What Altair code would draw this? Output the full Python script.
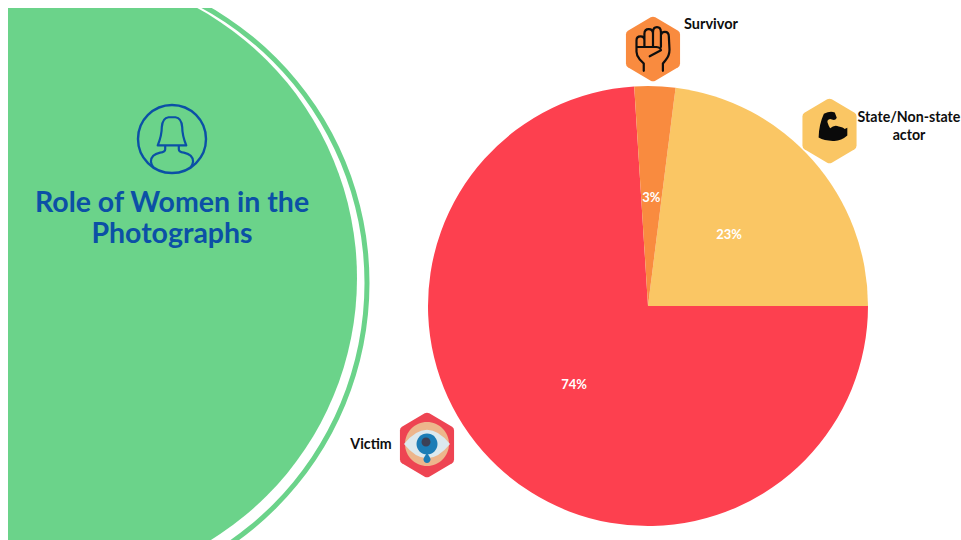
import altair as alt
import pandas as pd

# Pie values, clockwise from the slice that ends at three o'clock
roles = ["State/Non-state actor", "Victim", "Survivor"]
shares = [23, 74, 3]
ranks = [1, 2, 3]
slice_colors = ["#FAC664", "#FD404F", "#F98B3F"]

W, H = 961, 540
CX, CY, R = 648, 306, 220
START = 0.1257  # first slice begins a little past twelve o'clock
TAU = 6.28319

GREEN = "#6BD38A"
BLUE = "#0B50A6"
INK = "#0E0E0E"

HEX = ("M-.07,-.96 Q0,-1 .07,-.96 L.76,-.55 Q.82,-.51 .82,-.44 L.82,.44 Q.82,.51 .76,.55 "
       "L.07,.96 Q0,1 -.07,.96 L-.76,.55 Q-.82,.51 -.82,.44 L-.82,-.44 Q-.82,-.51 -.76,-.55 Z")
PERSON = ("M-.42,.19 Q-.3,-.1 -.3,-.35 Q-.28,-.62 -.1,-.64 L.1,-.64 Q.28,-.62 .3,-.35 Q.3,-.1 .42,.19 Z "
          "M-.2,.19 L-.2,.3 Q-.2,.38 -.35,.4 Q-.62,.46 -.62,.66 Q-.62,.72 -.55,.83 "
          "M.2,.19 L.2,.3 Q.2,.38 .35,.4 Q.62,.46 .62,.66 Q.62,.72 .55,.83")
CIRCLE_RING = "M-1,0 A1,1 0 1,1 1,0 A1,1 0 1,1 -1,0 Z"
FIST = ("M-.28,.66 L-.28,.44 L-.4,.32 Q-.5,.2 -.5,.08 L-.5,-.26 Q-.5,-.38 -.38,-.38 Q-.26,-.38 -.26,-.26 "
        "L-.26,-.46 Q-.26,-.6 -.13,-.6 Q0,-.6 0,-.46 L0,-.5 Q0,-.66 .12,-.66 Q.24,-.66 .24,-.5 "
        "L.24,-.42 Q.26,-.52 .36,-.52 Q.48,-.52 .48,-.38 L.5,.02 Q.5,.2 .38,.34 L.3,.44 L.3,.66 "
        "M-.26,-.26 L-.26,-.06 M0,-.46 L0,-.06 M.24,-.42 L.24,-.06 "
        "M-.5,-.06 L.1,-.06 Q.24,-.04 .24,.04 L-.1,.22")
ARM = ("M-.17,-.52 Q.02,-.62 .16,-.56 L.22,-.4 Q.2,-.32 .1,-.34 L.02,-.36 Q-.08,-.34 -.06,-.26 "
       "Q-.02,-.14 .02,-.08 Q.14,-.2 .28,-.14 Q.42,-.12 .46,-.06 L.54,-.1 L.54,.14 "
       "Q.34,.32 .1,.3 Q-.16,.3 -.33,.2 Q-.32,-.2 -.17,-.52 Z")
ALMOND = "M-1,0 Q-.5,-.62 0,-.62 Q.5,-.62 1,0 Q.5,.62 0,.62 Q-.5,.62 -1,0 Z"
DROP = "M0,-1 Q.7,-.1 .7,.3 A.7,.7 0 1,1 -.7,.3 Q-.7,-.1 0,-1 Z"

frame = pd.DataFrame({"role": roles, "share": shares, "rank": ranks})


def disc(x, y, radius, inner, color):
    """A full ring or disc for the panel's large circle."""
    return alt.Chart(pd.DataFrame({"a": [0]})).mark_arc(
        theta=0, theta2=TAU, innerRadius=inner, outerRadius=radius, color=color, clip=True
    ).encode(x=alt.value(x), y=alt.value(y))


def blank(x0, x1, y0, y1):
    """A white strip that trims the circle at the page margin."""
    return alt.Chart(pd.DataFrame({"a": [0]})).mark_rect(color="white").encode(
        x=alt.value(x0), x2=alt.value(x1), y=alt.value(y0), y2=alt.value(y1)
    )


def glyph(path, x, y, extent, fill=None, stroke=None, width=2.0):
    """An SVG path symbol; path units run from -1 to 1 across the extent."""
    style = {"shape": path, "size": extent * extent, "opacity": 1}
    if fill:
        style.update(filled=True, fill=fill, strokeWidth=0)
    else:
        style.update(filled=False, stroke=stroke, strokeWidth=width, strokeJoin="round", strokeCap="round")
    return alt.Chart(pd.DataFrame({"a": [0]})).mark_point(**style).encode(
        x=alt.value(x), y=alt.value(y)
    )


def label(text, x, y, size, color, weight="bold", font="Lato"):
    return alt.Chart(pd.DataFrame({"t": [text]})).mark_text(
        font=font, fontSize=size, fontWeight=weight, color=color, align="center", baseline="middle"
    ).encode(x=alt.value(x), y=alt.value(y), text="t:N")


theta = alt.Theta("share:Q", stack=True, scale=alt.Scale(range=[START, START + TAU]))

pie = alt.Chart(frame).mark_arc(outerRadius=R).encode(
    x=alt.value(CX),
    y=alt.value(CY),
    theta=theta,
    order=alt.Order("rank:O"),
    color=alt.Color("role:N", scale=alt.Scale(domain=roles, range=slice_colors), legend=None),
)

percents = alt.Chart(frame).transform_calculate(txt="datum.share + '%'").mark_text(
    radius=108, font="Lato", fontSize=13, fontWeight="bold", color="white"
).encode(
    x=alt.value(CX),
    y=alt.value(CY),
    theta=theta,
    order=alt.Order("rank:O"),
    text="txt:N",
)

chart = alt.layer(
    disc(51, 283, 318.5, 313.5, GREEN),
    disc(49, 278, 308, 0, GREEN),
    blank(0, 8, 0, H),
    blank(0, W, 0, 8),
    pie,
    percents,
    # headline block
    glyph(CIRCLE_RING, 172, 139, 68, stroke=BLUE, width=2.4),
    glyph(PERSON, 172, 139, 68, stroke=BLUE, width=2.2),
    label("Role of Women in the", 172, 203, 28.5, BLUE),
    label("Photographs", 172, 234, 28.5, BLUE),
    # survivor badge
    glyph(HEX, 653, 49, 66, fill=slice_colors[2]),
    glyph(FIST, 653, 49, 66, stroke=INK, width=2.2),
    label("Survivor", 711, 25, 14.5, INK),
    # state actor badge
    glyph(HEX, 829.5, 131, 66, fill=slice_colors[0]),
    glyph(ARM, 829.5, 131, 66, fill="#0A0A0A"),
    label("State/Non-state", 909, 118, 14.2, INK),
    label("actor", 909, 136, 14.2, INK),
    # victim badge
    glyph(HEX, 427, 445, 66, fill="#EE4452"),
    glyph(CIRCLE_RING, 427, 444, 44, fill="#EDB68C"),
    glyph(ALMOND, 427, 444, 46, fill="#DCE9EE"),
    glyph(DROP, 427, 458, 10, fill="#1B7DB6"),
    glyph(CIRCLE_RING, 427, 444, 21, fill="#1B7DB6"),
    glyph(CIRCLE_RING, 426, 442, 9, fill="#3C4156"),
    label("Victim", 371, 445, 14.2, INK),
).resolve_scale(
    theta="shared"
).properties(
    width=W,
    height=H,
    padding=0,
    autosize=alt.AutoSizeParams(type="none"),
    background="white",
).configure_view(stroke=None)

chart.save("out.html", embed_options={"renderer": "svg", "actions": False})
